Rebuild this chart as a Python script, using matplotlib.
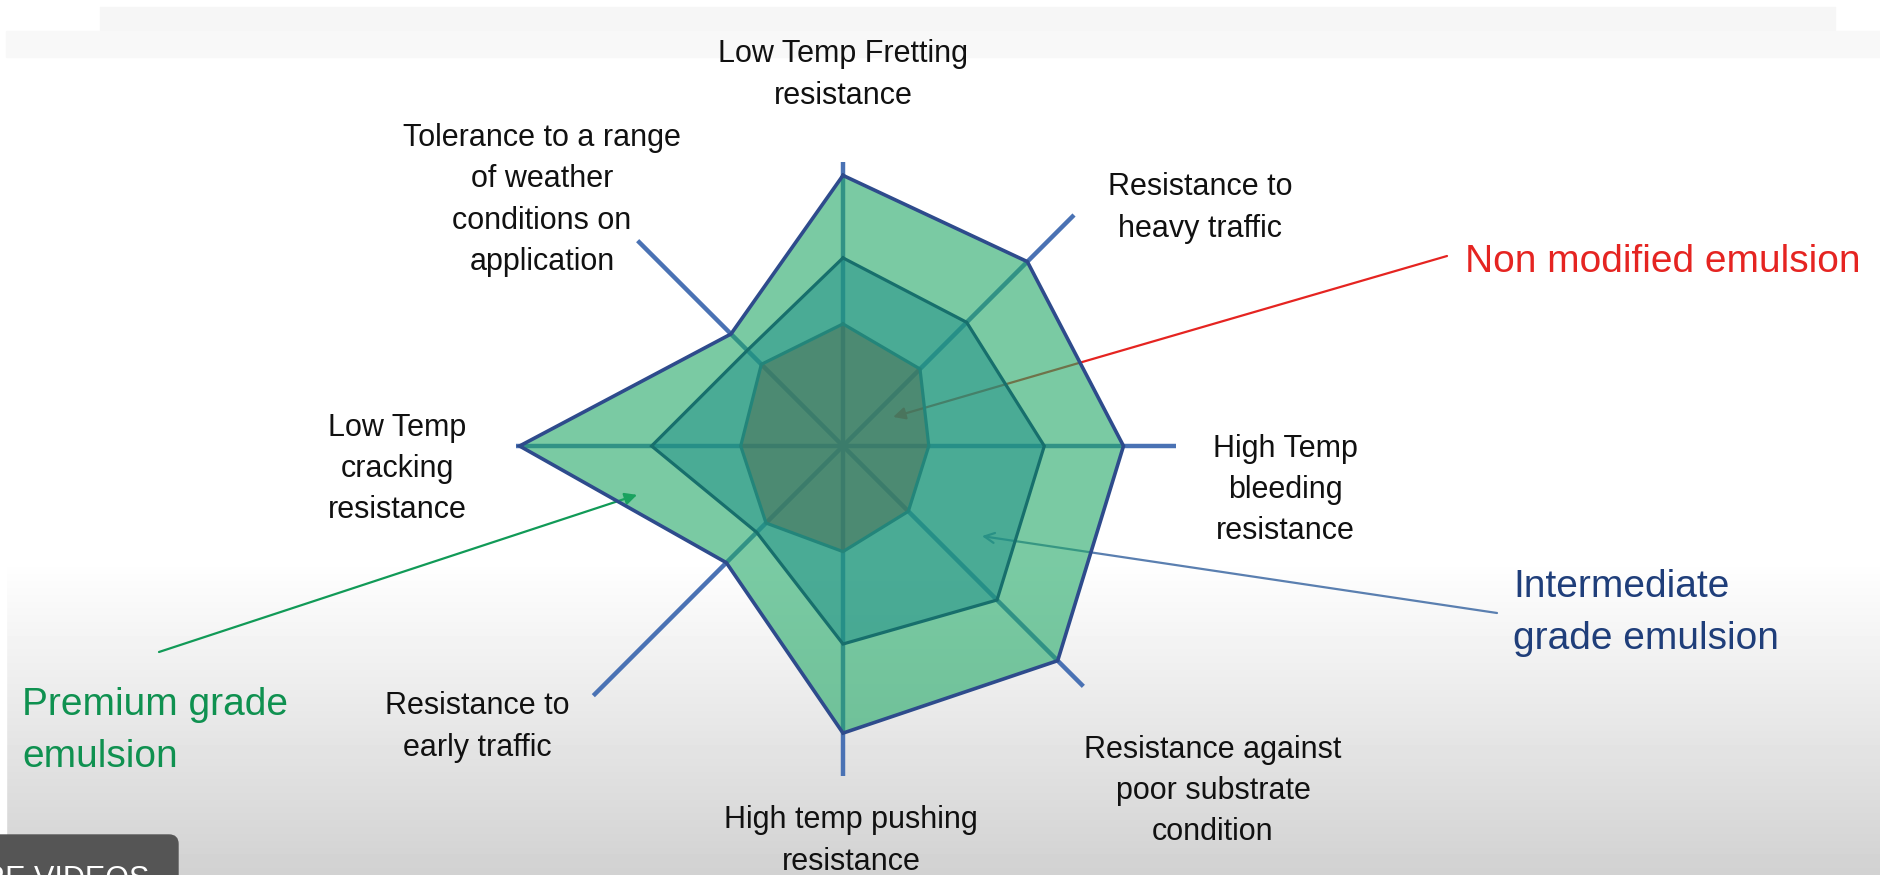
import numpy as np
import matplotlib
matplotlib.use("Agg")
import matplotlib.pyplot as plt
from matplotlib.patches import Rectangle, FancyBboxPatch

plt.rcParams['font.family'] = ['Liberation Sans', 'DejaVu Sans']

# radar axes, clockwise from the top
categories = [
    "Low Temp Fretting\nresistance",
    "Resistance to\nheavy traffic",
    "High Temp\nbleeding\nresistance",
    "Resistance against\npoor substrate\ncondition",
    "High temp pushing\nresistance",
    "Resistance to\nearly traffic",
    "Low Temp\ncracking\nresistance",
    "Tolerance to a range\nof weather\nconditions on\napplication",
]
spoke_len = [8.6, 9.9, 10.1, 10.3, 10.0, 10.7, 9.9, 8.8]

premium = [8.2, 7.9, 8.5, 9.2, 8.7, 5.0, 9.8, 4.8]
intermediate = [5.7, 5.3, 6.1, 6.6, 6.0, 3.7, 5.8, 4.1]
non_modified = [3.7, 3.3, 2.6, 2.8, 3.2, 3.3, 3.1, 3.5]

series_names = ["Premium grade\nemulsion", "Intermediate\ngrade emulsion",
                "Non modified emulsion"]

W, H = 1880, 875
fig = plt.figure(figsize=(W / 100, H / 100), dpi=100)


def fx(x):
    return x / W


def fy(y):
    return 1 - y / H


# slide background: white with a grey fade at the bottom
bg = fig.add_axes([0, 0, 1, 1])
bg.set_xlim(0, W)
bg.set_ylim(H, 0)
bg.axis('off')
rows = np.interp(np.arange(H), [0, 560, H], [1.0, 1.0, 0.82])
grad = np.tile(rows[:, None], (1, 2))
bg.imshow(grad, cmap='gray', vmin=0, vmax=1, extent=[6, W, H, 0],
          aspect='auto', zorder=0)
bg.add_patch(Rectangle((0, 0), 6, H, color='white', zorder=0.5))
bg.add_patch(Rectangle((100, 7), 1735, 24, color='#f6f6f6', zorder=0.6))
bg.add_patch(Rectangle((6, 31), W, 26, color='#f8f8f8', zorder=0.6))
bg.add_patch(FancyBboxPatch((-10, 835), 188, 60,
                            boxstyle='round,pad=0,rounding_size=9',
                            color='#555555', zorder=1))

# radar panel: 33 px per unit, centre at (843, 446)
cx, cy, half = 843, 446, 363
ax = fig.add_axes([fx(cx - half), fy(cy + half), 2 * half / W, 2 * half / H])
ax.set_xlim(-11, 11)
ax.set_ylim(-11, 11)
ax.axis('off')
ax.patch.set_alpha(0)

angles = np.deg2rad(90 - 45 * np.arange(len(categories)))

for a, L in zip(angles, spoke_len):
    ax.plot([0, L * np.cos(a)], [0, L * np.sin(a)], color='#4a72b4',
            lw=3.2, solid_capstyle='butt', zorder=1)


def ring(vals):
    v = np.array(vals + vals[:1])
    a = np.concatenate([angles, angles[:1]])
    return v * np.cos(a), v * np.sin(a)


styles = [
    (premium, '#21a866', 0.6, '#2e4b8c', 2.6, 2),
    (intermediate, '#1c8d89', 0.5, '#176f6c', 2.3, 3),
    (non_modified, '#4f6c52', 0.52, '#23857a', 2.3, 4),
]
for vals, fc, alpha, ec, lw, z in styles:
    xs, ys = ring(vals)
    ax.fill(xs, ys, facecolor=fc, alpha=alpha, edgecolor='none', zorder=z)
    ax.plot(xs, ys, color=ec, lw=lw, solid_joinstyle='miter', zorder=z + 0.1)

# category labels
label_pos = [(843, 75), (1200, 208), (1285, 490), (1213, 791),
             (851, 841), (477, 727), (397, 469), (542, 200)]
for text, (x, y) in zip(categories, label_pos):
    fig.text(fx(x), fy(y), text, ha='center', va='center',
             multialignment='center', fontsize=22, color='#111111',
             linespacing=1.48)

# call-outs pointing into each series
callouts = [
    (series_names[2], '#e52421', (1465, 262), (1447, 256), (1.52, 0.88), '-|>'),
    (series_names[1], '#1f3e7a', (1513, 613), (1497, 613), (4.21, -2.73), '->'),
    (series_names[0], '#0f9150', (22, 731), (159, 652), (-6.24, -1.48), '-|>'),
]
arrow_colors = ['#e52421', '#5a7fb0', '#119a57']
for (name, col, tpos, tail, head, style), acol in zip(callouts, arrow_colors):
    fig.text(fx(tpos[0]), fy(tpos[1]), name, ha='left', va='center',
             fontsize=28, color=col, linespacing=1.57)
    ax.annotate('', xy=head, xycoords='data',
                xytext=(tail[0], H - tail[1]), textcoords='figure pixels',
                arrowprops=dict(arrowstyle=style, color=acol, lw=1.6,
                                mutation_scale=18, shrinkA=0, shrinkB=0),
                zorder=1.5)

fig.text(fx(-66), fy(888), "MORE VIDEOS", ha='left', va='baseline',
         fontsize=22, color='white')

fig.savefig('out.png', dpi=100)
